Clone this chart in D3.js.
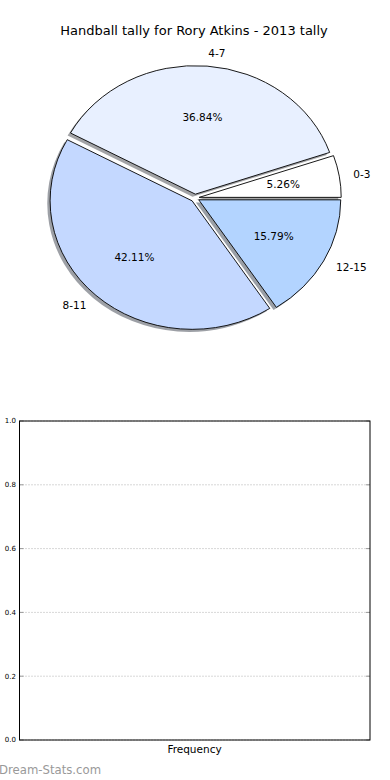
<!DOCTYPE html>
<html>
<head>
<meta charset="utf-8">
<script src="https://cdn.jsdelivr.net/npm/d3@7"></script>
<style>
html,body{margin:0;padding:0;background:#fff;}
svg{display:block;font-family:"DejaVu Sans",sans-serif;}
</style>
</head>
<body>
<svg id="chart" width="390" height="780"></svg>
<script>
const categories = ["0-3", "4-7", "8-11", "12-15"];
const values = [1, 7, 8, 3];
const sliceColors = ["#ffffff", "#e8f0ff", "#c4d8ff", "#b3d4ff"];
const titleText = "Handball tally for Rory Atkins - 2013 tally";
const yTicks = [0.0, 0.2, 0.4, 0.6, 0.8, 1.0];
const xLabel = "Frequency";
const watermark = "Dream-Stats.com";

(function () {
const svg = d3.select("#chart");

svg.append("text").attr("x", 194).attr("y", 30).attr("dy", "0.35em")
  .attr("text-anchor", "middle").attr("font-size", 13).attr("fill", "#000").text(titleText);

const cx = 195, cy = 198, rx = 142, ry = 128.5, R = 100;
const explode = 0.03;
const pie = d3.pie().sort(null).startAngle(Math.PI / 2).endAngle(Math.PI / 2 - 2 * Math.PI);
const arcs = pie(values);
const arc = d3.arc().innerRadius(0).outerRadius(R);
const total = d3.sum(values);

function shift(d) {
  const a = (d.startAngle + d.endAngle) / 2;
  return [explode * rx * Math.sin(a), -explode * ry * Math.cos(a)];
}

const g = svg.append("g").attr("transform", `translate(${cx},${cy})`);

arcs.forEach((d, i) => {
  const [sx, sy] = shift(d);
  const c = d3.rgb(sliceColors[i]);
  const sc = d3.rgb(c.r * 0.3, c.g * 0.3, c.b * 0.3);
  g.append("path")
    .attr("d", arc(d))
    .attr("transform", `translate(${sx - 0.02 * rx},${sy + 0.02 * ry}) scale(${rx / R},${ry / R})`)
    .attr("fill", sc.toString()).attr("fill-opacity", 0.5)
    .attr("stroke", "none");
});
arcs.forEach((d, i) => {
  const [sx, sy] = shift(d);
  g.append("path")
    .attr("d", arc(d))
    .attr("transform", `translate(${sx},${sy}) scale(${rx / R},${ry / R})`)
    .attr("fill", sliceColors[i])
    .attr("stroke", "#000").attr("stroke-width", 0.9)
    .attr("vector-effect", "non-scaling-stroke")
    .attr("stroke-linejoin", "round");
});
arcs.forEach((d, i) => {
  const [sx, sy] = shift(d);
  const a = (d.startAngle + d.endAngle) / 2;
  const lx = sx + 1.1 * rx * Math.sin(a), ly = sy - 1.1 * ry * Math.cos(a);
  g.append("text").attr("x", lx).attr("y", ly).attr("dy", "0.35em")
    .attr("text-anchor", lx > 0 ? "start" : "end")
    .attr("font-size", 10.5).attr("fill", "#000").text(categories[i]);
  const px = sx + 0.6 * rx * Math.sin(a), py = sy - 0.6 * ry * Math.cos(a);
  g.append("text").attr("x", px).attr("y", py).attr("dy", "0.35em")
    .attr("text-anchor", "middle")
    .attr("font-size", 10.5).attr("fill", "#000").text(d3.format(".2f")(d.data / total * 100) + "%");
});

const pL = 19.5, pR = 370, pT = 421, pB = 740;
const y = d3.scaleLinear().domain([0, 1]).range([pB, pT]);
const b = svg.append("g");
b.selectAll("line.grid").data(yTicks).enter().append("line")
  .attr("x1", pL).attr("x2", pR)
  .attr("y1", d => y(d)).attr("y2", d => y(d))
  .attr("stroke", "#b0b0b0").attr("stroke-width", 1).attr("stroke-dasharray", "1,2");
b.selectAll("line.tl").data(yTicks).enter().append("line")
  .attr("x1", pL).attr("x2", pL + 4).attr("y1", d => y(d)).attr("y2", d => y(d))
  .attr("stroke", "#999");
b.selectAll("line.tr").data(yTicks).enter().append("line")
  .attr("x1", pR - 4).attr("x2", pR).attr("y1", d => y(d)).attr("y2", d => y(d))
  .attr("stroke", "#999");
b.append("rect").attr("x", pL).attr("y", pT).attr("width", pR - pL).attr("height", pB - pT)
  .attr("fill", "none").attr("stroke", "#000").attr("stroke-width", 1);
b.selectAll("text.yt").data(yTicks).enter().append("text")
  .attr("x", 16).attr("y", d => y(d)).attr("dy", "0.35em")
  .attr("text-anchor", "end").attr("font-size", 7).attr("fill", "#000")
  .text(d => d3.format(".1f")(d));
b.append("text").attr("x", 194.5).attr("y", 749).attr("dy", "0.35em")
  .attr("text-anchor", "middle").attr("font-size", 10.5).attr("fill", "#000").text(xLabel);

svg.append("text").attr("x", -1).attr("y", 770).attr("dy", "0.35em")
  .attr("font-size", 11.7).attr("fill", "#999").text(watermark);
})();
</script>
</body>
</html>
